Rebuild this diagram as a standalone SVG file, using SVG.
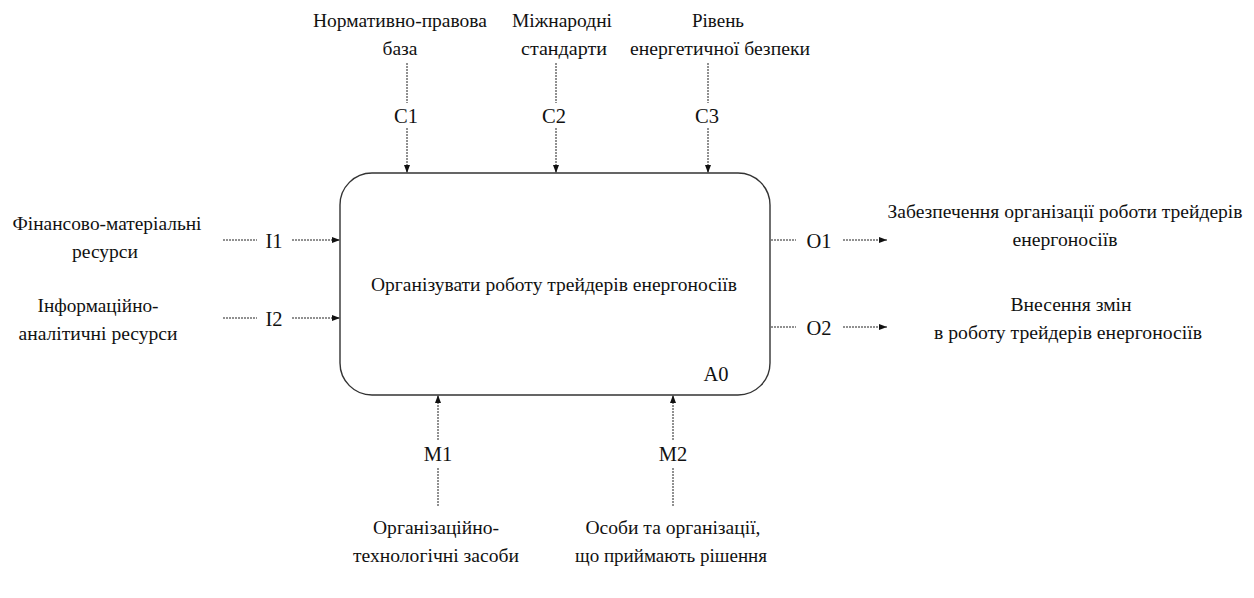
<svg xmlns="http://www.w3.org/2000/svg" width="1254" height="598" viewBox="0 0 1254 598">
  <style>
    .t { font-family: "Liberation Serif", "Tinos", "Times New Roman", "Noto Serif", "DejaVu Serif", "FreeSerif", "PT Serif", serif; font-size: 19.5px; fill: #111; text-anchor: middle; }
    .lbl { font-family: "Liberation Serif", "Times New Roman", serif; font-size: 20.5px; fill: #111; text-anchor: middle; }
    .box { fill: #fff; stroke: #333; stroke-width: 1.4; }
    .dash { fill: none; stroke: #222; stroke-width: 1; stroke-dasharray: 2 1; }
  </style>
  <defs>
    <marker id="arrow" viewBox="0 0 8 6" refX="8" refY="3" markerWidth="8" markerHeight="6" markerUnits="userSpaceOnUse" orient="auto">
      <path d="M0,0 L8,3 L0,6 Z" fill="#111"/>
    </marker>
  </defs>
  <rect width="1254" height="598" fill="#fff"/>

  <!-- Activity box A0 -->
  <g id="A0">
    <rect class="box" x="340" y="173" width="430" height="222" rx="32" ry="32"/>
    <text class="t" x="554" y="291" textLength="366" lengthAdjust="spacingAndGlyphs">Організувати роботу трейдерів енергоносіїв</text>
    <text class="lbl" x="716" y="381">A0</text>
  </g>

  <!-- Controls -->
  <g id="C1">
    <text class="t" x="400" y="27" textLength="174" lengthAdjust="spacingAndGlyphs">Нормативно-правова</text>
    <text class="t" x="400" y="55" textLength="35" lengthAdjust="spacingAndGlyphs">база</text>
    <text class="lbl" x="406" y="123">C1</text>
  </g>
  <g id="C2">
    <text class="t" x="562" y="27" textLength="100" lengthAdjust="spacingAndGlyphs">Міжнародні</text>
    <text class="t" x="564" y="55" textLength="86" lengthAdjust="spacingAndGlyphs">стандарти</text>
    <text class="lbl" x="554" y="123">C2</text>
  </g>
  <g id="C3">
    <text class="t" x="718" y="27" textLength="52" lengthAdjust="spacingAndGlyphs">Рівень</text>
    <text class="t" x="720" y="55" textLength="180" lengthAdjust="spacingAndGlyphs">енергетичної безпеки</text>
    <text class="lbl" x="707" y="123">C3</text>
  </g>

  <!-- Inputs -->
  <g id="I1">
    <text class="t" x="107" y="230" textLength="189" lengthAdjust="spacingAndGlyphs">Фінансово-матеріальні</text>
    <text class="t" x="105" y="258" textLength="66" lengthAdjust="spacingAndGlyphs">ресурси</text>
    <text class="lbl" x="274" y="248">I1</text>
  </g>
  <g id="I2">
    <text class="t" x="98" y="312" textLength="121" lengthAdjust="spacingAndGlyphs">Інформаційно-</text>
    <text class="t" x="98" y="340" textLength="159" lengthAdjust="spacingAndGlyphs">аналітичні ресурси</text>
    <text class="lbl" x="274" y="326">I2</text>
  </g>

  <!-- Outputs -->
  <g id="O1">
    <text class="lbl" x="819" y="248">O1</text>
    <text class="t" x="1065" y="218" textLength="355" lengthAdjust="spacingAndGlyphs">Забезпечення організації роботи трейдерів</text>
    <text class="t" x="1065" y="246" textLength="105" lengthAdjust="spacingAndGlyphs">енергоносіїв</text>
  </g>
  <g id="O2">
    <text class="lbl" x="819" y="335">O2</text>
    <text class="t" x="1071" y="311" textLength="121" lengthAdjust="spacingAndGlyphs">Внесення змін</text>
    <text class="t" x="1068" y="339" textLength="268" lengthAdjust="spacingAndGlyphs">в роботу трейдерів енергоносіїв</text>
  </g>

  <!-- Mechanisms -->
  <g id="M1">
    <text class="lbl" x="438" y="461">M1</text>
    <text class="t" x="436" y="534" textLength="126" lengthAdjust="spacingAndGlyphs">Організаційно-</text>
    <text class="t" x="436" y="562" textLength="166" lengthAdjust="spacingAndGlyphs">технологічні засоби</text>
  </g>
  <g id="M2">
    <text class="lbl" x="673" y="461">M2</text>
    <text class="t" x="673" y="534" textLength="175" lengthAdjust="spacingAndGlyphs">Особи та організації,</text>
    <text class="t" x="671" y="562" textLength="192" lengthAdjust="spacingAndGlyphs">що приймають рішення</text>
  </g>

  <!-- Connectors -->
  <g id="connectors">
    <!-- controls, downward into the top edge -->
    <line class="dash" x1="407" y1="63" x2="407" y2="103"/>
    <line class="dash" x1="407" y1="128" x2="407" y2="173" marker-end="url(#arrow)"/>
    <line class="dash" x1="556" y1="63" x2="556" y2="103"/>
    <line class="dash" x1="556" y1="128" x2="556" y2="173" marker-end="url(#arrow)"/>
    <line class="dash" x1="708" y1="63" x2="708" y2="103"/>
    <line class="dash" x1="708" y1="128" x2="708" y2="173" marker-end="url(#arrow)"/>
    <!-- inputs, into the left edge -->
    <line class="dash" x1="223" y1="240" x2="257" y2="240"/>
    <line class="dash" x1="292" y1="240" x2="340" y2="240" marker-end="url(#arrow)"/>
    <line class="dash" x1="223" y1="318" x2="257" y2="318"/>
    <line class="dash" x1="292" y1="318" x2="340" y2="318" marker-end="url(#arrow)"/>
    <!-- outputs, from the right edge -->
    <line class="dash" x1="771" y1="240" x2="796" y2="240"/>
    <line class="dash" x1="843" y1="240" x2="887" y2="240" marker-end="url(#arrow)"/>
    <line class="dash" x1="771" y1="327" x2="796" y2="327"/>
    <line class="dash" x1="843" y1="327" x2="887" y2="327" marker-end="url(#arrow)"/>
    <!-- mechanisms, upward into the bottom edge -->
    <line class="dash" x1="438" y1="506" x2="438" y2="468"/>
    <line class="dash" x1="438" y1="440" x2="438" y2="395" marker-end="url(#arrow)"/>
    <line class="dash" x1="673" y1="506" x2="673" y2="468"/>
    <line class="dash" x1="673" y1="440" x2="673" y2="395" marker-end="url(#arrow)"/>
  </g>
</svg>
